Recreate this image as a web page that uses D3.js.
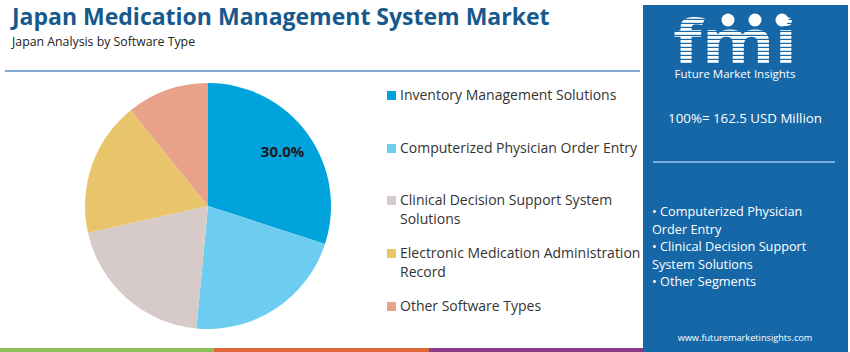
<!DOCTYPE html>
<html>
<head>
<meta charset="utf-8">
<script src="https://cdn.jsdelivr.net/npm/d3@7"></script>
<style>
  body { margin: 0; background: #fff; }
  text { font-family: "Open Sans", sans-serif; }
</style>
</head>
<body>
<div id="chart"></div>
<script>
(function () {
  const width = 850, height = 352;

  // data
  const segments = ["Inventory Management Solutions", "Computerized Physician Order Entry",
    "Clinical Decision Support System Solutions", "Electronic Medication Administration Record",
    "Other Software Types"];
  const shares = [30.0, 21.5, 20.0, 17.7, 10.8];
  const legendLines = [["Inventory Management Solutions"], ["Computerized Physician Order Entry"],
    ["Clinical Decision Support System", "Solutions"], ["Electronic Medication Administration", "Record"],
    ["Other Software Types"]];
  const colors = ["#00a3dc", "#6dcdf0", "#d6cbc8", "#e8c46a", "#e9a28a"];
  const sideBullets = ["• Computerized Physician", "Order Entry", "• Clinical Decision Support",
    "System Solutions", "• Other Segments"];
  const totalText = "100%= 162.5 USD Million";

  const svg = d3.select("#chart").append("svg")
    .attr("width", width).attr("height", height);

  // striped fill for the logo letters
  const pat = svg.append("defs").append("pattern")
    .attr("id", "stripes").attr("patternUnits", "userSpaceOnUse")
    .attr("width", 8).attr("height", 4);
  pat.append("rect").attr("width", 8).attr("height", 2.8).attr("fill", "#fff");

  // title block
  svg.append("text").attr("x", 12).attr("y", 25)
    .attr("font-size", 23).attr("font-weight", 700).attr("fill", "#17598c")
    .text("Japan Medication Management System Market");
  svg.append("text").attr("x", 12).attr("y", 46)
    .attr("font-size", 12.3).attr("fill", "#222")
    .text("Japan Analysis by Software Type");
  svg.append("line").attr("x1", 5).attr("x2", 640).attr("y1", 71).attr("y2", 71)
    .attr("stroke", "#5b8fc4").attr("stroke-width", 1.5);

  // pie
  const cx = 208, cy = 206, r = 123;
  const pie = d3.pie().sort(null).value(d => d)(shares);
  const arc = d3.arc().innerRadius(0).outerRadius(r);
  const labelArc = d3.arc().innerRadius(r * 0.75).outerRadius(r * 0.75);
  const g = svg.append("g").attr("transform", `translate(${cx},${cy})`);
  g.selectAll("path").data(pie).join("path")
    .attr("d", arc).attr("fill", (d, i) => colors[i]);
  g.selectAll("text.pct").data(pie.slice(0, 1)).join("text")
    .attr("class", "pct")
    .attr("transform", d => `translate(${labelArc.centroid(d)})`)
    .attr("text-anchor", "middle").attr("dy", "0.35em")
    .attr("font-size", 15).attr("font-weight", 700).attr("fill", "#1a1a1a")
    .text(d => d.data.toFixed(1) + "%");

  // legend
  const legendY = [95, 148, 200, 253, 306];
  const lg = svg.append("g");
  legendLines.forEach((lines, i) => {
    lg.append("rect").attr("x", 387).attr("y", legendY[i] - 4)
      .attr("width", 9).attr("height", 9).attr("fill", colors[i]);
    lines.forEach((t, j) => {
      lg.append("text").attr("x", 400).attr("y", legendY[i] + 5 + j * 19)
        .attr("font-size", 14).attr("fill", "#333").text(t);
    });
  });

  // side panel
  svg.append("rect").attr("x", 643).attr("y", 5).attr("width", 205).attr("height", 347)
    .attr("fill", "#1667a7");

  // logo
  const logo = svg.append("g");
  logo.append("text").attr("x", 673).attr("y", 63)
    .attr("font-family", "DejaVu Serif").attr("font-size", 60).attr("font-weight", 700)
    .attr("textLength", 124).attr("lengthAdjust", "spacingAndGlyphs")
    .attr("fill", "url(#stripes)").text("fmi");
  [728, 755, 782].forEach(x => {
    logo.append("circle").attr("cx", x).attr("cy", 20).attr("r", 6.5).attr("fill", "#fff");
  });
  logo.append("text").attr("x", 735).attr("y", 78).attr("text-anchor", "middle")
    .attr("font-size", 11.5).attr("fill", "#fff").text("Future Market Insights");

  svg.append("text").attr("x", 745).attr("y", 123).attr("text-anchor", "middle")
    .attr("font-size", 13.3).attr("fill", "#fff").text(totalText);
  svg.append("line").attr("x1", 653).attr("x2", 835).attr("y1", 162).attr("y2", 162)
    .attr("stroke", "#9cc6ea").attr("stroke-width", 1.5);

  sideBullets.forEach((t, i) => {
    svg.append("text").attr("x", 652).attr("y", 216 + i * 17.6)
      .attr("font-size", 12.7).attr("fill", "#fff").text(t);
  });
  svg.append("text").attr("x", 745).attr("y", 341).attr("text-anchor", "middle")
    .attr("font-size", 9.2).attr("fill", "#fff").text("www.futuremarketinsights.com");

  // bottom colour strip
  const strip = [["#8dc05a", 0, 214], ["#df6639", 214, 429], ["#8b3b86", 429, 643]];
  strip.forEach(s => {
    svg.append("rect").attr("x", s[1]).attr("y", 348).attr("width", s[2] - s[1]).attr("height", 4)
      .attr("fill", s[0]);
  });
})();
</script>
</body>
</html>
